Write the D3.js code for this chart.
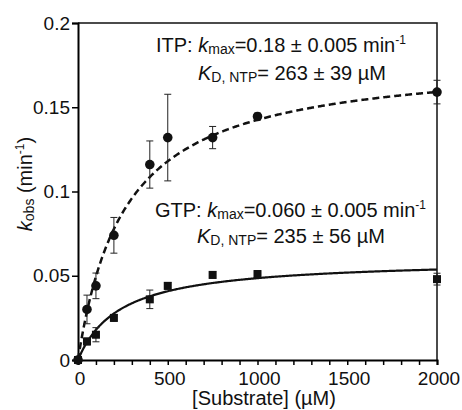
<!DOCTYPE html>
<html>
<head>
<meta charset="utf-8">
<script src="https://cdn.jsdelivr.net/npm/d3@7"></script>
<style>
  body { margin: 0; background: #fff; }
  svg text { font-family: "Liberation Sans", Arial, sans-serif; fill: #111; }
</style>
</head>
<body>
<div id="chart"></div>
<script>
const substrate = [0, 50, 100, 200, 400, 500, 750, 1000, 2000];
const itpKobs = [0, 0.030, 0.044, 0.074, 0.116, 0.132, 0.132, 0.1445, 0.159];
const itpErr = [0, 0.0085, 0.0076, 0.0106, 0.014, 0.0257, 0.0066, 0.002, 0.007];
const gtpKobs = [0, 0.011, 0.015, 0.025, 0.036, 0.044, 0.0505, 0.051, 0.048];
const gtpErr = [0, 0.002, 0.0042, 0.002, 0.0055, 0.002, 0.002, 0.002, 0.0035];

// fitted hyperbola parameters shown in the annotations
const itpFit = [0.18, 263];
const gtpFit = [0.060, 235];

const xTicks = [0, 500, 1000, 1500, 2000];
const yTicks = [0, 0.05, 0.1, 0.15, 0.2];

const width = 462;
const height = 410;

const svg = d3.select("#chart")
    .append("svg")
    .attr("width", width)
    .attr("height", height);

const x = d3.scaleLinear().domain([0, 2000]).range([78, 437]);
const y = d3.scaleLinear().domain([0, 0.2]).range([360, 23]);

// frame (top and right)
svg.append("path")
    .attr("d", `M${x(0)},${y(0.2)}H${x(2000)}V${y(0)}`)
    .attr("fill", "none")
    .attr("stroke", "#111")
    .attr("stroke-width", 1.5);

// x axis with minor ticks every 100
const xAxis = svg.append("g")
    .attr("transform", `translate(0,${y(0)})`)
    .call(d3.axisBottom(x).tickValues(d3.range(0, 2001, 100)).tickSize(5).tickFormat(""));
xAxis.select(".domain").attr("stroke-width", 2);
xAxis.selectAll(".tick line").attr("stroke-width", 1.5);

svg.append("g").selectAll("text")
    .data(xTicks)
    .enter().append("text")
    .attr("x", d => x(d) + 2)
    .attr("y", 385)
    .attr("text-anchor", "middle")
    .attr("font-size", 19)
    .text(d => d);

// y axis
const yAxis = svg.append("g")
    .attr("transform", `translate(${x(0)},0)`)
    .call(d3.axisLeft(y).tickValues(yTicks).tickSize(6).tickPadding(2)
        .tickFormat(d => d === 0 ? "0" : String(d)));
yAxis.select(".domain").attr("stroke-width", 2);
yAxis.selectAll(".tick line").attr("stroke-width", 1.5);
yAxis.selectAll(".tick text")
    .attr("font-size", 19)
    .attr("font-family", "Liberation Sans, Arial, sans-serif")
    .attr("fill", "#111");

// fit curves
const curveX = d3.range(0, 2001, 5);
const line = d3.line().x(d => x(d[0])).y(d => y(d[1]));
const fitPoints = p => curveX.map(s => [s, p[0] * s / (p[1] + s)]);

svg.append("path")
    .attr("d", line(fitPoints(itpFit)))
    .attr("fill", "none")
    .attr("stroke", "#111")
    .attr("stroke-width", 2.5)
    .attr("stroke-dasharray", "7,4");

svg.append("path")
    .attr("d", line(fitPoints(gtpFit)))
    .attr("fill", "none")
    .attr("stroke", "#111")
    .attr("stroke-width", 2.2);

// error bars
function errorBars(vals, errs) {
    const g = svg.append("g").attr("stroke", "#222").attr("stroke-width", 1);
    substrate.forEach((s, i) => {
        if (!errs[i]) return;
        const cx = x(s), top = y(vals[i] + errs[i]), bot = y(vals[i] - errs[i]);
        g.append("path")
            .attr("d", `M${cx},${top}V${bot}M${cx - 3.5},${top}H${cx + 3.5}M${cx - 3.5},${bot}H${cx + 3.5}`)
            .attr("fill", "none");
    });
}
errorBars(itpKobs, itpErr);
errorBars(gtpKobs, gtpErr);

// markers
svg.append("g").selectAll("rect")
    .data(substrate)
    .enter().append("rect")
    .attr("x", (d) => x(d) - 4)
    .attr("y", (d, i) => y(gtpKobs[i]) - 4)
    .attr("width", 8)
    .attr("height", 8)
    .attr("fill", "#111");

svg.append("g").selectAll("circle")
    .data(substrate)
    .enter().append("circle")
    .attr("cx", d => x(d))
    .attr("cy", (d, i) => y(itpKobs[i]))
    .attr("r", 4.8)
    .attr("fill", "#111");

// annotations
function kmaxLine(tx, ty, name, value) {
    const t = svg.append("text").attr("x", tx).attr("y", ty).attr("font-size", 20);
    t.append("tspan").text(name + ": ");
    t.append("tspan").attr("font-style", "italic").text("k");
    t.append("tspan").attr("font-size", 14).attr("dy", 2).text("max");
    t.append("tspan").attr("dy", -2).text("=" + value + " min");
    t.append("tspan").attr("font-size", 12).attr("dy", -8).text("-1");
}
function kdLine(tx, ty, value) {
    const t = svg.append("text").attr("x", tx).attr("y", ty).attr("font-size", 20);
    t.append("tspan").attr("font-style", "italic").text("K");
    t.append("tspan").attr("font-size", 14).attr("dy", 2).text("D, NTP");
    t.append("tspan").attr("dy", -2).text("= " + value + " \u00b5M");
}
kmaxLine(156, 52, "ITP", "0.18 \u00b1 0.005");
kdLine(198, 80, "263 \u00b1 39");
kmaxLine(155, 217, "GTP", "0.060 \u00b1 0.005");
kdLine(197, 243, "235 \u00b1 56");

// axis labels
svg.append("text")
    .attr("x", 264)
    .attr("y", 405)
    .attr("text-anchor", "middle")
    .attr("font-size", 20)
    .text("[Substrate] (\u00b5M)");

const yl = svg.append("text")
    .attr("transform", "translate(32,184) rotate(-90)")
    .attr("text-anchor", "middle")
    .attr("font-size", 20);
yl.append("tspan").attr("font-style", "italic").text("k");
yl.append("tspan").attr("font-size", 14).attr("dy", 2).text("obs");
yl.append("tspan").attr("dy", -2).text(" (min");
yl.append("tspan").attr("font-size", 12).attr("dy", -8).text("-1");
yl.append("tspan").attr("dy", 8).text(")");
</script>
</body>
</html>
